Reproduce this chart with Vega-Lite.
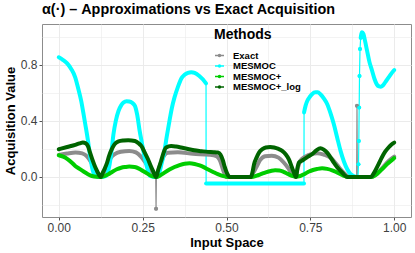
{
  "$schema": "https://vega.github.io/schema/vega-lite/v6.json",
  "width": 369,
  "height": 193,
  "autosize": {"type": "none"},
  "padding": {"left": 42, "top": 24, "right": 4, "bottom": 36},
  "title": {"text": "α(·) – Approximations vs Exact Acquisition", "anchor": "start", "frame": "group", "fontSize": 14.4, "fontWeight": "bold", "font": "Liberation Sans", "color": "#000000", "offset": 7},
  "config": {
    "font": "Liberation Sans",
    "view": {"stroke": "#8C8C8C", "strokeWidth": 1},
    "axis": {"domain": false, "gridColor": "#EBEBEB", "tickColor": "#555555", "tickSize": 3, "labelColor": "#404040", "labelFontSize": 12, "titleFontSize": 13, "titleFontWeight": "bold", "titleColor": "#000000", "labelPadding": 2}
  },
  "data": {"values": [
    {"m":"Exact","p":1,"x":0,"y":0.157},{"m":"Exact","p":1,"x":0.025,"y":0.167},{"m":"Exact","p":1,"x":0.05,"y":0.174},{"m":"Exact","p":1,"x":0.07,"y":0.168},{"m":"Exact","p":1,"x":0.085,"y":0.145},{"m":"Exact","p":1,"x":0.095,"y":0.11},{"m":"Exact","p":1,"x":0.105,"y":0.065},{"m":"Exact","p":1,"x":0.115,"y":0.025},{"m":"Exact","p":1,"x":0.125,"y":0.0},{"m":"Exact","p":1,"x":0.135,"y":0.03},{"m":"Exact","p":1,"x":0.145,"y":0.085},{"m":"Exact","p":1,"x":0.155,"y":0.135},{"m":"Exact","p":1,"x":0.168,"y":0.165},{"m":"Exact","p":1,"x":0.185,"y":0.18},{"m":"Exact","p":1,"x":0.21,"y":0.186},{"m":"Exact","p":1,"x":0.23,"y":0.175},{"m":"Exact","p":1,"x":0.245,"y":0.145},{"m":"Exact","p":1,"x":0.258,"y":0.105},{"m":"Exact","p":1,"x":0.27,"y":0.065},{"m":"Exact","p":1,"x":0.28,"y":0.03},{"m":"Exact","p":1,"x":0.289,"y":0.0},
    {"m":"Exact","p":2,"x":0.29,"y":-0.226},
    {"m":"Exact","p":3,"x":0.291,"y":0.0},{"m":"Exact","p":3,"x":0.3,"y":0.07},{"m":"Exact","p":3,"x":0.31,"y":0.135},{"m":"Exact","p":3,"x":0.325,"y":0.172},{"m":"Exact","p":3,"x":0.355,"y":0.176},{"m":"Exact","p":3,"x":0.4,"y":0.165},{"m":"Exact","p":3,"x":0.45,"y":0.158},{"m":"Exact","p":3,"x":0.47,"y":0.148},{"m":"Exact","p":3,"x":0.48,"y":0.12},{"m":"Exact","p":3,"x":0.49,"y":0.05},{"m":"Exact","p":3,"x":0.5,"y":0.0},{"m":"Exact","p":3,"x":0.57,"y":0.0},{"m":"Exact","p":3,"x":0.58,"y":0.03},{"m":"Exact","p":3,"x":0.59,"y":0.075},{"m":"Exact","p":3,"x":0.6,"y":0.12},{"m":"Exact","p":3,"x":0.615,"y":0.148},{"m":"Exact","p":3,"x":0.635,"y":0.152},{"m":"Exact","p":3,"x":0.655,"y":0.138},{"m":"Exact","p":3,"x":0.67,"y":0.105},{"m":"Exact","p":3,"x":0.685,"y":0.06},{"m":"Exact","p":3,"x":0.697,"y":0.015},{"m":"Exact","p":3,"x":0.706,"y":0.0},{"m":"Exact","p":3,"x":0.712,"y":0.06},{"m":"Exact","p":3,"x":0.72,"y":0.115},{"m":"Exact","p":3,"x":0.735,"y":0.145},{"m":"Exact","p":3,"x":0.755,"y":0.165},{"m":"Exact","p":3,"x":0.77,"y":0.17},{"m":"Exact","p":3,"x":0.79,"y":0.16},{"m":"Exact","p":3,"x":0.81,"y":0.138},{"m":"Exact","p":3,"x":0.825,"y":0.1},{"m":"Exact","p":3,"x":0.84,"y":0.055},{"m":"Exact","p":3,"x":0.855,"y":0.018},{"m":"Exact","p":3,"x":0.868,"y":0.0},{"m":"Exact","p":3,"x":0.888,"y":0.0},
    {"m":"Exact","p":4,"x":0.889,"y":0.507},
    {"m":"Exact","p":5,"x":0.89,"y":0.0},{"m":"Exact","p":5,"x":0.932,"y":0.0},{"m":"Exact","p":5,"x":0.945,"y":0.015},{"m":"Exact","p":5,"x":0.958,"y":0.045},{"m":"Exact","p":5,"x":0.97,"y":0.08},{"m":"Exact","p":5,"x":0.985,"y":0.118},{"m":"Exact","p":5,"x":1.0,"y":0.145},

    {"m":"MESMOC","p":1,"x":0,"y":0.853},{"m":"MESMOC","p":1,"x":0.012,"y":0.835},{"m":"MESMOC","p":1,"x":0.025,"y":0.81},{"m":"MESMOC","p":1,"x":0.037,"y":0.77},{"m":"MESMOC","p":1,"x":0.049,"y":0.71},{"m":"MESMOC","p":1,"x":0.058,"y":0.63},{"m":"MESMOC","p":1,"x":0.067,"y":0.54},{"m":"MESMOC","p":1,"x":0.073,"y":0.46},{"m":"MESMOC","p":1,"x":0.079,"y":0.376},{"m":"MESMOC","p":1,"x":0.087,"y":0.26},{"m":"MESMOC","p":1,"x":0.094,"y":0.14},{"m":"MESMOC","p":1,"x":0.101,"y":0.05},{"m":"MESMOC","p":1,"x":0.108,"y":0.01},{"m":"MESMOC","p":1,"x":0.125,"y":0.0},{"m":"MESMOC","p":1,"x":0.142,"y":0.01},{"m":"MESMOC","p":1,"x":0.15,"y":0.07},{"m":"MESMOC","p":1,"x":0.157,"y":0.18},{"m":"MESMOC","p":1,"x":0.163,"y":0.305},{"m":"MESMOC","p":1,"x":0.17,"y":0.4},{"m":"MESMOC","p":1,"x":0.178,"y":0.47},{"m":"MESMOC","p":1,"x":0.186,"y":0.51},{"m":"MESMOC","p":1,"x":0.193,"y":0.53},{"m":"MESMOC","p":1,"x":0.202,"y":0.54},{"m":"MESMOC","p":1,"x":0.21,"y":0.538},{"m":"MESMOC","p":1,"x":0.218,"y":0.53},{"m":"MESMOC","p":1,"x":0.227,"y":0.507},{"m":"MESMOC","p":1,"x":0.234,"y":0.44},{"m":"MESMOC","p":1,"x":0.241,"y":0.33},{"m":"MESMOC","p":1,"x":0.248,"y":0.24},{"m":"MESMOC","p":1,"x":0.256,"y":0.14},{"m":"MESMOC","p":1,"x":0.264,"y":0.06},{"m":"MESMOC","p":1,"x":0.271,"y":0.01},{"m":"MESMOC","p":1,"x":0.29,"y":0.0},{"m":"MESMOC","p":1,"x":0.298,"y":0.02},{"m":"MESMOC","p":1,"x":0.306,"y":0.09},{"m":"MESMOC","p":1,"x":0.315,"y":0.186},{"m":"MESMOC","p":1,"x":0.322,"y":0.29},{"m":"MESMOC","p":1,"x":0.33,"y":0.4},{"m":"MESMOC","p":1,"x":0.337,"y":0.49},{"m":"MESMOC","p":1,"x":0.345,"y":0.567},{"m":"MESMOC","p":1,"x":0.355,"y":0.64},{"m":"MESMOC","p":1,"x":0.365,"y":0.7},{"m":"MESMOC","p":1,"x":0.375,"y":0.728},{"m":"MESMOC","p":1,"x":0.385,"y":0.742},{"m":"MESMOC","p":1,"x":0.395,"y":0.747},{"m":"MESMOC","p":1,"x":0.405,"y":0.742},{"m":"MESMOC","p":1,"x":0.419,"y":0.72},{"m":"MESMOC","p":1,"x":0.43,"y":0.695},{"m":"MESMOC","p":1,"x":0.439,"y":0.667},
    {"m":"MESMOC","p":2,"x":0.4392,"y":-0.047},{"m":"MESMOC","p":2,"x":0.731,"y":-0.047},
    {"m":"MESMOC","p":3,"x":0.7312,"y":0.46},{"m":"MESMOC","p":3,"x":0.736,"y":0.51},{"m":"MESMOC","p":3,"x":0.741,"y":0.543},{"m":"MESMOC","p":3,"x":0.748,"y":0.57},{"m":"MESMOC","p":3,"x":0.755,"y":0.59},{"m":"MESMOC","p":3,"x":0.765,"y":0.603},{"m":"MESMOC","p":3,"x":0.772,"y":0.603},{"m":"MESMOC","p":3,"x":0.78,"y":0.59},{"m":"MESMOC","p":3,"x":0.79,"y":0.56},{"m":"MESMOC","p":3,"x":0.8,"y":0.52},{"m":"MESMOC","p":3,"x":0.81,"y":0.455},{"m":"MESMOC","p":3,"x":0.82,"y":0.376},{"m":"MESMOC","p":3,"x":0.83,"y":0.28},{"m":"MESMOC","p":3,"x":0.84,"y":0.186},{"m":"MESMOC","p":3,"x":0.85,"y":0.11},{"m":"MESMOC","p":3,"x":0.86,"y":0.055},{"m":"MESMOC","p":3,"x":0.87,"y":0.02},{"m":"MESMOC","p":3,"x":0.879,"y":0.007},{"m":"MESMOC","p":3,"x":0.892,"y":0.0},
    {"m":"MESMOC","p":4,"x":0.8935,"y":0.09},{"m":"MESMOC","p":5,"x":0.8945,"y":0.257},{"m":"MESMOC","p":6,"x":0.8955,"y":0.495},{"m":"MESMOC","p":7,"x":0.8965,"y":0.72},{"m":"MESMOC","p":8,"x":0.898,"y":0.912},
    {"m":"MESMOC","p":9,"x":0.9,"y":0.99},{"m":"MESMOC","p":9,"x":0.904,"y":1.032},{"m":"MESMOC","p":9,"x":0.908,"y":1.02},{"m":"MESMOC","p":9,"x":0.913,"y":0.97},{"m":"MESMOC","p":9,"x":0.919,"y":0.9},{"m":"MESMOC","p":9,"x":0.926,"y":0.82},{"m":"MESMOC","p":9,"x":0.934,"y":0.757},{"m":"MESMOC","p":9,"x":0.941,"y":0.7},{"m":"MESMOC","p":9,"x":0.948,"y":0.66},{"m":"MESMOC","p":9,"x":0.955,"y":0.645},{"m":"MESMOC","p":9,"x":0.96,"y":0.643},{"m":"MESMOC","p":9,"x":0.966,"y":0.652},{"m":"MESMOC","p":9,"x":0.973,"y":0.674},{"m":"MESMOC","p":9,"x":0.985,"y":0.715},{"m":"MESMOC","p":9,"x":0.998,"y":0.757},{"m":"MESMOC","p":9,"x":1.0,"y":0.762},

    {"m":"MESMOC+","p":1,"x":0,"y":0.155},{"m":"MESMOC+","p":1,"x":0.013,"y":0.145},{"m":"MESMOC+","p":1,"x":0.027,"y":0.126},{"m":"MESMOC+","p":1,"x":0.04,"y":0.1},{"m":"MESMOC+","p":1,"x":0.049,"y":0.079},{"m":"MESMOC+","p":1,"x":0.062,"y":0.058},{"m":"MESMOC+","p":1,"x":0.074,"y":0.039},{"m":"MESMOC+","p":1,"x":0.087,"y":0.02},{"m":"MESMOC+","p":1,"x":0.099,"y":0.007},{"m":"MESMOC+","p":1,"x":0.112,"y":0.001},{"m":"MESMOC+","p":1,"x":0.125,"y":0.0},{"m":"MESMOC+","p":1,"x":0.136,"y":0.007},{"m":"MESMOC+","p":1,"x":0.148,"y":0.02},{"m":"MESMOC+","p":1,"x":0.16,"y":0.038},{"m":"MESMOC+","p":1,"x":0.173,"y":0.055},{"m":"MESMOC+","p":1,"x":0.186,"y":0.066},{"m":"MESMOC+","p":1,"x":0.198,"y":0.071},{"m":"MESMOC+","p":1,"x":0.21,"y":0.074},{"m":"MESMOC+","p":1,"x":0.226,"y":0.071},{"m":"MESMOC+","p":1,"x":0.239,"y":0.06},{"m":"MESMOC+","p":1,"x":0.251,"y":0.043},{"m":"MESMOC+","p":1,"x":0.264,"y":0.024},{"m":"MESMOC+","p":1,"x":0.276,"y":0.007},{"m":"MESMOC+","p":1,"x":0.29,"y":0.0},{"m":"MESMOC+","p":1,"x":0.303,"y":0.012},{"m":"MESMOC+","p":1,"x":0.315,"y":0.031},{"m":"MESMOC+","p":1,"x":0.33,"y":0.053},{"m":"MESMOC+","p":1,"x":0.345,"y":0.071},{"m":"MESMOC+","p":1,"x":0.36,"y":0.085},{"m":"MESMOC+","p":1,"x":0.375,"y":0.095},{"m":"MESMOC+","p":1,"x":0.39,"y":0.098},{"m":"MESMOC+","p":1,"x":0.405,"y":0.093},{"m":"MESMOC+","p":1,"x":0.42,"y":0.082},{"m":"MESMOC+","p":1,"x":0.432,"y":0.07},{"m":"MESMOC+","p":1,"x":0.444,"y":0.055},{"m":"MESMOC+","p":1,"x":0.46,"y":0.036},{"m":"MESMOC+","p":1,"x":0.474,"y":0.02},{"m":"MESMOC+","p":1,"x":0.488,"y":0.008},{"m":"MESMOC+","p":1,"x":0.5,"y":0.002},{"m":"MESMOC+","p":1,"x":0.51,"y":0.0},{"m":"MESMOC+","p":1,"x":0.575,"y":0.0},{"m":"MESMOC+","p":1,"x":0.59,"y":0.01},{"m":"MESMOC+","p":1,"x":0.602,"y":0.02},{"m":"MESMOC+","p":1,"x":0.617,"y":0.033},{"m":"MESMOC+","p":1,"x":0.632,"y":0.043},{"m":"MESMOC+","p":1,"x":0.645,"y":0.048},{"m":"MESMOC+","p":1,"x":0.658,"y":0.046},{"m":"MESMOC+","p":1,"x":0.67,"y":0.037},{"m":"MESMOC+","p":1,"x":0.683,"y":0.022},{"m":"MESMOC+","p":1,"x":0.695,"y":0.008},{"m":"MESMOC+","p":1,"x":0.705,"y":0.003},{"m":"MESMOC+","p":1,"x":0.72,"y":0.007},{"m":"MESMOC+","p":1,"x":0.733,"y":0.022},{"m":"MESMOC+","p":1,"x":0.746,"y":0.039},{"m":"MESMOC+","p":1,"x":0.758,"y":0.05},{"m":"MESMOC+","p":1,"x":0.77,"y":0.057},{"m":"MESMOC+","p":1,"x":0.785,"y":0.062},{"m":"MESMOC+","p":1,"x":0.8,"y":0.058},{"m":"MESMOC+","p":1,"x":0.815,"y":0.048},{"m":"MESMOC+","p":1,"x":0.828,"y":0.034},{"m":"MESMOC+","p":1,"x":0.84,"y":0.02},{"m":"MESMOC+","p":1,"x":0.85,"y":0.008},{"m":"MESMOC+","p":1,"x":0.862,"y":0.0},{"m":"MESMOC+","p":1,"x":0.932,"y":0.0},{"m":"MESMOC+","p":1,"x":0.945,"y":0.015},{"m":"MESMOC+","p":1,"x":0.958,"y":0.043},{"m":"MESMOC+","p":1,"x":0.968,"y":0.065},{"m":"MESMOC+","p":1,"x":0.978,"y":0.09},{"m":"MESMOC+","p":1,"x":0.989,"y":0.112},{"m":"MESMOC+","p":1,"x":1.0,"y":0.135},

    {"m":"MESMOC+_log","p":1,"x":0,"y":0.198},{"m":"MESMOC+_log","p":1,"x":0.025,"y":0.214},{"m":"MESMOC+_log","p":1,"x":0.049,"y":0.229},{"m":"MESMOC+_log","p":1,"x":0.062,"y":0.24},{"m":"MESMOC+_log","p":1,"x":0.072,"y":0.246},{"m":"MESMOC+_log","p":1,"x":0.08,"y":0.24},{"m":"MESMOC+_log","p":1,"x":0.087,"y":0.22},{"m":"MESMOC+_log","p":1,"x":0.093,"y":0.175},{"m":"MESMOC+_log","p":1,"x":0.1,"y":0.125},{"m":"MESMOC+_log","p":1,"x":0.107,"y":0.08},{"m":"MESMOC+_log","p":1,"x":0.114,"y":0.043},{"m":"MESMOC+_log","p":1,"x":0.12,"y":0.015},{"m":"MESMOC+_log","p":1,"x":0.125,"y":0.0},{"m":"MESMOC+_log","p":1,"x":0.131,"y":0.03},{"m":"MESMOC+_log","p":1,"x":0.137,"y":0.06},{"m":"MESMOC+_log","p":1,"x":0.143,"y":0.095},{"m":"MESMOC+_log","p":1,"x":0.15,"y":0.15},{"m":"MESMOC+_log","p":1,"x":0.158,"y":0.198},{"m":"MESMOC+_log","p":1,"x":0.166,"y":0.232},{"m":"MESMOC+_log","p":1,"x":0.178,"y":0.253},{"m":"MESMOC+_log","p":1,"x":0.193,"y":0.26},{"m":"MESMOC+_log","p":1,"x":0.207,"y":0.262},{"m":"MESMOC+_log","p":1,"x":0.227,"y":0.257},{"m":"MESMOC+_log","p":1,"x":0.237,"y":0.242},{"m":"MESMOC+_log","p":1,"x":0.246,"y":0.221},{"m":"MESMOC+_log","p":1,"x":0.256,"y":0.175},{"m":"MESMOC+_log","p":1,"x":0.266,"y":0.126},{"m":"MESMOC+_log","p":1,"x":0.274,"y":0.08},{"m":"MESMOC+_log","p":1,"x":0.281,"y":0.043},{"m":"MESMOC+_log","p":1,"x":0.29,"y":0.0},{"m":"MESMOC+_log","p":1,"x":0.297,"y":0.055},{"m":"MESMOC+_log","p":1,"x":0.305,"y":0.114},{"m":"MESMOC+_log","p":1,"x":0.312,"y":0.17},{"m":"MESMOC+_log","p":1,"x":0.32,"y":0.21},{"m":"MESMOC+_log","p":1,"x":0.335,"y":0.221},{"m":"MESMOC+_log","p":1,"x":0.35,"y":0.217},{"m":"MESMOC+_log","p":1,"x":0.365,"y":0.21},{"m":"MESMOC+_log","p":1,"x":0.385,"y":0.2},{"m":"MESMOC+_log","p":1,"x":0.404,"y":0.19},{"m":"MESMOC+_log","p":1,"x":0.425,"y":0.184},{"m":"MESMOC+_log","p":1,"x":0.444,"y":0.179},{"m":"MESMOC+_log","p":1,"x":0.462,"y":0.177},{"m":"MESMOC+_log","p":1,"x":0.474,"y":0.174},{"m":"MESMOC+_log","p":1,"x":0.482,"y":0.16},{"m":"MESMOC+_log","p":1,"x":0.489,"y":0.12},{"m":"MESMOC+_log","p":1,"x":0.495,"y":0.07},{"m":"MESMOC+_log","p":1,"x":0.5,"y":0.035},{"m":"MESMOC+_log","p":1,"x":0.506,"y":0.007},{"m":"MESMOC+_log","p":1,"x":0.51,"y":0.0},{"m":"MESMOC+_log","p":1,"x":0.573,"y":0.0},{"m":"MESMOC+_log","p":1,"x":0.578,"y":0.04},{"m":"MESMOC+_log","p":1,"x":0.582,"y":0.09},{"m":"MESMOC+_log","p":1,"x":0.59,"y":0.14},{"m":"MESMOC+_log","p":1,"x":0.597,"y":0.174},{"m":"MESMOC+_log","p":1,"x":0.607,"y":0.198},{"m":"MESMOC+_log","p":1,"x":0.617,"y":0.21},{"m":"MESMOC+_log","p":1,"x":0.63,"y":0.213},{"m":"MESMOC+_log","p":1,"x":0.642,"y":0.21},{"m":"MESMOC+_log","p":1,"x":0.655,"y":0.2},{"m":"MESMOC+_log","p":1,"x":0.666,"y":0.186},{"m":"MESMOC+_log","p":1,"x":0.677,"y":0.16},{"m":"MESMOC+_log","p":1,"x":0.686,"y":0.126},{"m":"MESMOC+_log","p":1,"x":0.694,"y":0.075},{"m":"MESMOC+_log","p":1,"x":0.701,"y":0.031},{"m":"MESMOC+_log","p":1,"x":0.707,"y":0.0},{"m":"MESMOC+_log","p":1,"x":0.712,"y":0.07},{"m":"MESMOC+_log","p":1,"x":0.716,"y":0.103},{"m":"MESMOC+_log","p":1,"x":0.724,"y":0.115},{"m":"MESMOC+_log","p":1,"x":0.731,"y":0.126},{"m":"MESMOC+_log","p":1,"x":0.743,"y":0.145},{"m":"MESMOC+_log","p":1,"x":0.755,"y":0.162},{"m":"MESMOC+_log","p":1,"x":0.768,"y":0.19},{"m":"MESMOC+_log","p":1,"x":0.78,"y":0.205},{"m":"MESMOC+_log","p":1,"x":0.79,"y":0.195},{"m":"MESMOC+_log","p":1,"x":0.8,"y":0.174},{"m":"MESMOC+_log","p":1,"x":0.81,"y":0.14},{"m":"MESMOC+_log","p":1,"x":0.82,"y":0.103},{"m":"MESMOC+_log","p":1,"x":0.83,"y":0.07},{"m":"MESMOC+_log","p":1,"x":0.84,"y":0.043},{"m":"MESMOC+_log","p":1,"x":0.85,"y":0.018},{"m":"MESMOC+_log","p":1,"x":0.86,"y":0.0},{"m":"MESMOC+_log","p":1,"x":0.93,"y":0.0},{"m":"MESMOC+_log","p":1,"x":0.937,"y":0.018},{"m":"MESMOC+_log","p":1,"x":0.943,"y":0.043},{"m":"MESMOC+_log","p":1,"x":0.953,"y":0.09},{"m":"MESMOC+_log","p":1,"x":0.963,"y":0.139},{"m":"MESMOC+_log","p":1,"x":0.973,"y":0.18},{"m":"MESMOC+_log","p":1,"x":0.983,"y":0.21},{"m":"MESMOC+_log","p":1,"x":0.992,"y":0.232},{"m":"MESMOC+_log","p":1,"x":1.0,"y":0.245}
  ]},
  "encoding": {
    "x": {"field": "x", "type": "quantitative", "title": "Input Space",
      "scale": {"domain": [-0.05, 1.05], "nice": false, "zero": false},
      "axis": {"values": [0, 0.125, 0.25, 0.375, 0.5, 0.625, 0.75, 0.875, 1], "labelExpr": "datum.value * 4 == floor(datum.value * 4) ? format(datum.value, '.2f') : ''",
        "tickOpacity": {"condition": {"test": "datum.value * 4 == floor(datum.value * 4)", "value": 1}, "value": 0},
        "gridWidth": {"condition": {"test": "datum.value * 4 == floor(datum.value * 4)", "value": 1}, "value": 0.6},
        "labelFlush": false, "labelOverlap": false, "titlePadding": 3}},
    "y": {"field": "y", "type": "quantitative", "title": "Acquisition Value",
      "scale": {"domain": [-0.285, 1.09], "nice": false, "zero": false},
      "axis": {"values": [-0.2, 0, 0.2, 0.4, 0.6, 0.8, 1.0], "labelExpr": "abs(datum.value * 2.5 - round(datum.value * 2.5)) < 0.001 ? format(datum.value, '.1f') : ''",
        "tickOpacity": {"condition": {"test": "abs(datum.value * 2.5 - round(datum.value * 2.5)) < 0.001", "value": 1}, "value": 0},
        "gridWidth": {"condition": {"test": "abs(datum.value * 2.5 - round(datum.value * 2.5)) < 0.001", "value": 1}, "value": 0.6},
        "labelFlush": false, "labelOverlap": false, "titlePadding": 3}},
    "color": {"field": "m", "type": "nominal", "title": "Methods",
      "scale": {"domain": ["Exact", "MESMOC", "MESMOC+", "MESMOC+_log"], "range": ["#8C8C8C", "#00FFFF", "#00CD00", "#006400"]},
      "legend": {"orient": "none", "legendX": 172, "legendY": 4, "titleFontSize": 14, "titleFontWeight": "bold", "titleColor": "#000000", "titlePadding": 8,
        "labelFontSize": 9.5, "labelFontWeight": "bold", "labelColor": "#000000", "labelOffset": 8,
        "symbolType": "M-1,0L1,0M-0.22,0A0.22,0.22 0 1,0 0.22,0A0.22,0.22 0 1,0 -0.22,0", "symbolSize": 81, "symbolStrokeWidth": 1.6, "rowPadding": 0.5, "padding": 0}}
  },
  "layer": [
    {"mark": {"type": "line", "strokeWidth": 1.2, "interpolate": "linear"}, "encoding": {"order": {"field": "x", "type": "quantitative"}}},
    {"mark": {"type": "line", "strokeWidth": 4, "strokeCap": "round", "strokeJoin": "round", "interpolate": "monotone"}, "encoding": {"detail": {"field": "p", "type": "nominal"}, "order": {"field": "x", "type": "quantitative"}}},
    {"transform": [{"filter": "(datum.m == 'Exact' && (datum.p == 2 || datum.p == 4)) || (datum.m == 'MESMOC' && datum.p >= 4 && datum.p <= 8)"}],
     "mark": {"type": "point", "filled": true, "size": 14, "opacity": 1}}
  ]
}
